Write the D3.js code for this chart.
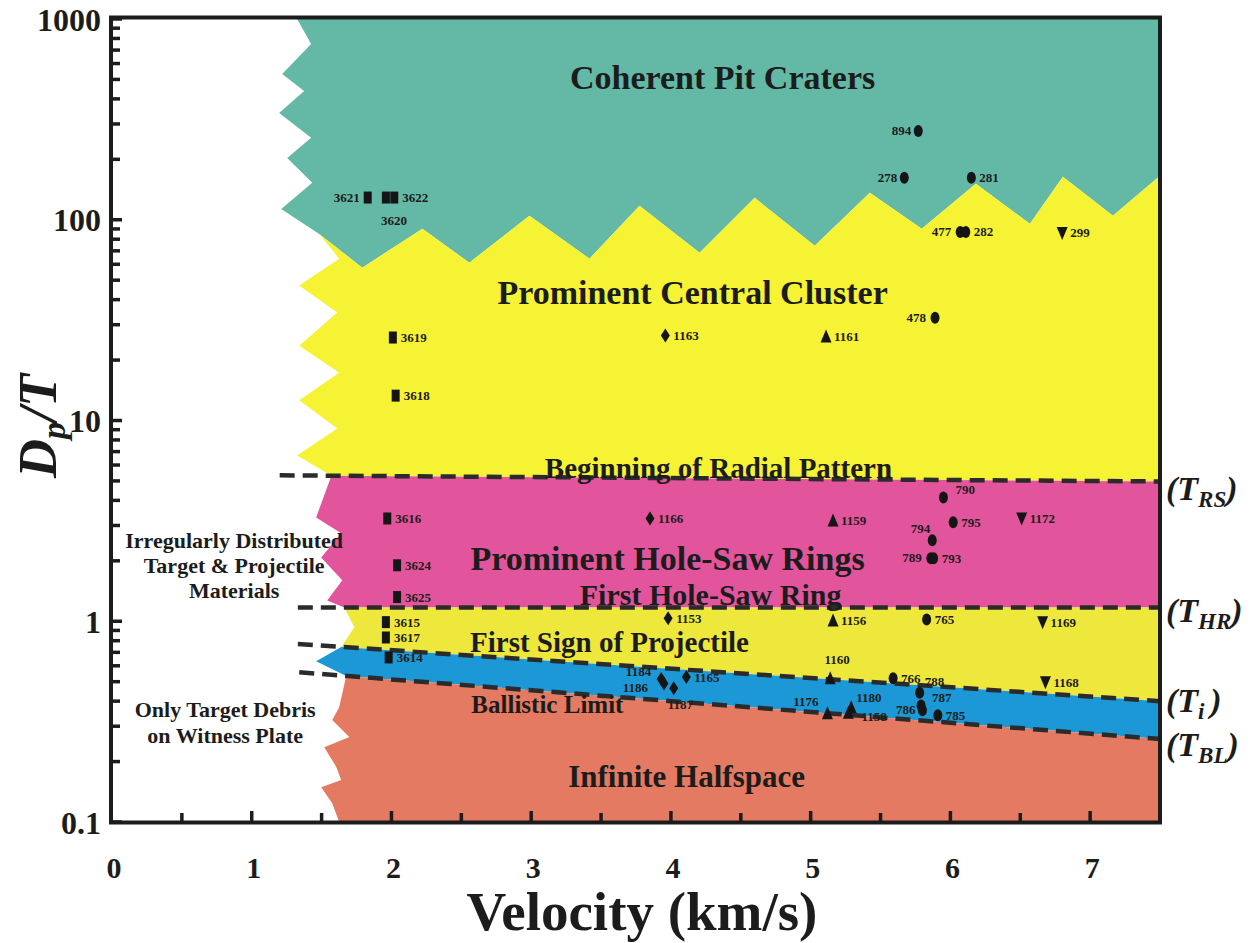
<!DOCTYPE html>
<html>
<head>
<meta charset="utf-8">
<script src="https://cdn.jsdelivr.net/npm/d3@7"></script>
<style>
  body { margin: 0; background: #fff; }
  svg { display: block; }
  text { font-family: "Liberation Serif", "Times New Roman", serif; font-weight: bold; fill: #1c1c1c; }
</style>
</head>
<body>
<script>
// ---------- axis ticks ----------
const xTickValues = [0, 1, 2, 3, 4, 5, 6, 7];
const yTickValues = [0.1, 1, 10, 100, 1000];
const yTickLabels = ["0.1", "1", "10", "100", "1000"];

// ---------- threshold lines (velocity km/s, Dp/T) ----------
const rsLine = [[1.20, 5.33], [7.5, 4.97]];   // T_RS
const hrLine = [[1.33, 1.17], [7.5, 1.17]];   // T_HR
const tiLine = [[1.33, 0.77], [7.5, 0.40]];   // T_i
const blLine = [[1.34, 0.557], [7.5, 0.259]]; // T_BL

// ---------- ragged region borders (velocity, Dp/T) ----------
const tealEdge = [[1.325, 1000], [1.425, 751], [1.218, 532], [1.375, 438], [1.196, 340],
                  [1.425, 256], [1.254, 203], [1.433, 153], [1.211, 113]];
const craterLine = [[1.483, 85], [1.791, 57.7], [2.221, 90.2], [2.557, 61.1], [2.987, 104.7],
                    [3.417, 64.0], [3.775, 117.4], [4.205, 68.5], [4.599, 128.6], [5.029, 74.3],
                    [5.423, 136.3], [5.795, 90.2], [6.182, 151], [6.569, 95.5], [6.805, 163.7],
                    [7.163, 104.7], [7.5, 165.6]];
const yellowEdge = [[1.626, 64], [1.340, 47], [1.612, 34.5], [1.340, 23.6], [1.626, 17.3],
                    [1.340, 12.6], [1.612, 9.12], [1.325, 6.70]];
const pinkEdge = [[1.461, 3.29], [1.640, 2.74], [1.497, 2.08], [1.648, 1.60], [1.540, 1.27]];
const lowYellowEdge = [[1.734, 0.933]];
const blueEdge = [[1.461, 0.632]];
const salmonEdge = [[1.626, 0.373], [1.576, 0.322], [1.698, 0.265], [1.519, 0.236],
                    [1.605, 0.188], [1.640, 0.162], [1.497, 0.149], [1.576, 0.124]];
const joinV = { rs: 1.57, hr: 1.662, ti: 1.640, bl: 1.676, base: 1.626 };

// ---------- test shots: [shot number, velocity, Dp/T] ----------
const squarePts = [["3621", 1.83, 129], ["3620", 1.96, 129], ["3622", 2.02, 129],
                   ["3619", 2.01, 25.9], ["3618", 2.03, 13.3], ["3616", 1.97, 3.25],
                   ["3624", 2.04, 1.90], ["3625", 2.04, 1.32], ["3615", 1.96, 0.99],
                   ["3617", 1.96, 0.83], ["3614", 1.98, 0.66]];
const circlePts = [["894", 5.77, 277], ["278", 5.67, 162], ["281", 6.15, 162], ["477", 6.07, 87],
                   ["282", 6.11, 87], ["478", 5.89, 32.5], ["790", 5.95, 4.14], ["795", 6.02, 3.11],
                   ["794", 5.87, 2.53], ["789", 5.86, 2.06], ["793", 5.88, 2.06], ["765", 5.83, 1.02],
                   ["766", 5.59, 0.52], ["788", 5.78, 0.44], ["787", 5.79, 0.38], ["786", 5.80, 0.36],
                   ["785", 5.91, 0.34]];
const diamondPts = [["1163", 3.96, 26.5], ["1166", 3.85, 3.25], ["1153", 3.98, 1.035],
                    ["1184", 3.93, 0.515], ["1186", 3.95, 0.49], ["1187", 4.02, 0.464],
                    ["1165", 4.11, 0.527]];
const triUpPts = [["1161", 5.11, 26.2], ["1159", 5.16, 3.18], ["1156", 5.16, 1.01],
                  ["1160", 5.14, 0.52], ["1176", 5.12, 0.348], ["1180", 5.29, 0.373],
                  ["1158", 5.27, 0.35]];
const triDownPts = [["299", 6.80, 86], ["1172", 6.51, 3.25], ["1169", 6.66, 0.99],
                    ["1168", 6.68, 0.497]];

// ---------- region names: [text, velocity, Dp/T, font size] ----------
const regionNames = [
  ["Coherent Pit Craters", 4.37, 449, 34],
  ["Prominent Central Cluster", 4.155, 38.2, 34],
  ["Beginning of Radial Pattern", 4.34, 5.2, 29],
  ["Prominent Hole-Saw Rings", 3.976, 1.79, 34],
  ["First Hole-Saw Ring", 4.284, 1.20, 30],
  ["First Sign of Projectile", 3.56, 0.701, 29],
  ["Ballistic Limit", 3.116, 0.348, 25],
  ["Infinite Halfspace", 4.112, 0.149, 31],
  ["Irregularly Distributed", 0.874, 2.31, 22],
  ["Target & Projectile", 0.874, 1.73, 22],
  ["Materials", 0.874, 1.30, 22],
  ["Only Target Debris", 0.81, 0.333, 22],
  ["on Witness Plate", 0.81, 0.247, 22]
];

// ---------- layout ----------
const W = 1256, H = 943;
const svg = d3.select("body").append("svg").attr("width", W).attr("height", H);
svg.append("rect").attr("width", W).attr("height", H).attr("fill", "#fff");

const x = d3.scaleLinear().domain([0, 7.5]).range([112, 1160]);
const y = d3.scaleLog().domain([0.1, 1000]).range([822, 19]);

function lineAt(ln, v) {
  const t = (v - ln[0][0]) / (ln[1][0] - ln[0][0]);
  const a = Math.log10(ln[0][1]), b = Math.log10(ln[1][1]);
  return Math.pow(10, a + t * (b - a));
}
const P = (ln, v) => [v, lineAt(ln, v)];
const xEnd = x.domain()[1], yTop = y.domain()[1], yBot = y.domain()[0];

const regions = [
  { fill: "#64b8a6", pts: [...tealEdge, ...craterLine, [xEnd, yTop]] },
  { fill: "#f6f234", pts: [...craterLine, P(rsLine, xEnd), P(rsLine, joinV.rs), ...yellowEdge.slice().reverse()] },
  { fill: "#e2559c", pts: [P(rsLine, joinV.rs), P(rsLine, xEnd), P(hrLine, xEnd), P(hrLine, joinV.hr), ...pinkEdge.slice().reverse()] },
  { fill: "#eee83c", pts: [P(hrLine, joinV.hr), P(hrLine, xEnd), P(tiLine, xEnd), P(tiLine, joinV.ti), ...lowYellowEdge] },
  { fill: "#1b98d5", pts: [P(tiLine, joinV.ti), P(tiLine, xEnd), P(blLine, xEnd), P(blLine, joinV.bl), ...blueEdge] },
  { fill: "#e37a61", pts: [P(blLine, joinV.bl), P(blLine, xEnd), [xEnd, yBot], [joinV.base, yBot], ...salmonEdge.slice().reverse()] }
];

const poly = d3.line().x(d => x(d[0])).y(d => y(d[1]));
svg.append("g").selectAll("path").data(regions).join("path")
  .attr("d", d => poly(d.pts) + "Z")
  .attr("fill", d => d.fill);

// dashed threshold lines
svg.append("g").selectAll("path").data([rsLine, hrLine, tiLine, blLine]).join("path")
  .attr("d", d => poly(d))
  .attr("fill", "none").attr("stroke", "#2b2b2b")
  .attr("stroke-width", 4.5).attr("stroke-dasharray", "15 8");

// region names
svg.append("g").selectAll("text").data(regionNames).join("text")
  .attr("x", d => x(d[1])).attr("y", d => y(d[2]))
  .attr("text-anchor", "middle").attr("font-size", d => d[3])
  .text(d => d[0]);

// ---------- markers ----------
const shapes = {
  square: "M-4,-6H4V6H-4Z",
  diamond: "M0,-7L4.5,0L0,7L-4.5,0Z",
  triUp: "M0,-7L5.5,6H-5.5Z",
  triDown: "M0,7L5.5,-6H-5.5Z"
};
const markerSets = [
  { pts: squarePts, shape: "square" },
  { pts: circlePts, shape: "circle" },
  { pts: diamondPts, shape: "diamond" },
  { pts: triUpPts, shape: "triUp" },
  { pts: triDownPts, shape: "triDown" }
];
// label offset from its marker: [dx, dy, anchor]
const labelPlace = {
  "3621": [-8, 4, "end"], "3620": [8, 27, "middle"],
  "894": [-7, 4, "end"], "278": [-7, 4, "end"], "477": [-9, 4, "end"], "478": [-9, 4, "end"],
  "789": [-9, 4, "end"], "794": [-2, -7, "end"], "786": [-7, 4, "end"],
  "1184": [-10, -3, "end"], "1186": [-16, 9, "end"], "1187": [-6, 21, "start"],
  "1176": [-9, -7, "end"], "1180": [5, -5, "start"], "1158": [13, 8, "start"],
  "1160": [7, -14, "middle"], "788": [5, -7, "start"], "787": [11, -4, "start"],
  "790": [12, -3, "start"]
};

const mg = svg.append("g");
markerSets.forEach(set => {
  set.pts.forEach(p => {
    const cx = x(p[1]), cy = y(p[2]);
    if (set.shape === "circle") {
      mg.append("ellipse").attr("cx", cx).attr("cy", cy).attr("rx", 4.5).attr("ry", 6).attr("fill", "#151515");
    } else {
      mg.append("path").attr("d", shapes[set.shape]).attr("transform", `translate(${cx},${cy})`).attr("fill", "#151515");
    }
    const pl = labelPlace[p[0]] || [8, 4.5, "start"];
    mg.append("text").attr("x", cx + pl[0]).attr("y", cy + pl[1])
      .attr("text-anchor", pl[2]).attr("font-size", 13).text(p[0]);
  });
});

// ---------- threshold names at right ----------
const thresholdNames = [
  { sub: "RS", ln: rsLine, dy: 19 },
  { sub: "HR", ln: hrLine, dy: 14 },
  { sub: "i ", ln: tiLine, dy: 11 },
  { sub: "BL", ln: blLine, dy: 17 }
];
thresholdNames.forEach(t => {
  const tx = svg.append("text").attr("x", 1166).attr("y", y(lineAt(t.ln, xEnd)) + t.dy)
    .attr("font-size", 34).attr("font-style", "italic").attr("font-weight", "normal");
  tx.append("tspan").text("(T");
  tx.append("tspan").attr("font-size", 23).attr("font-weight", "bold").attr("dy", 7).text(t.sub);
  tx.append("tspan").attr("dy", -7).text(")");
});

// ---------- axes ----------
const ax = svg.append("g").attr("stroke", "#1c1c1c").attr("fill", "none");
ax.append("rect").attr("x", x(0) - 1).attr("y", y(1000) - 1.5)
  .attr("width", x(7.5) - x(0) + 1).attr("height", y(0.1) - y(1000) + 2)
  .attr("stroke-width", 4);

// y ticks: decades long, 2..9 short
ax.selectAll("line.yt").data(y.ticks()).join("line")
  .attr("x1", x(0)).attr("x2", d => x(0) + (yTickValues.includes(d) ? 10 : 8))
  .attr("y1", d => y(d)).attr("y2", d => y(d)).attr("stroke-width", 3.5);

// x ticks every half km/s, pointing up
ax.selectAll("line.xt").data(d3.range(0.5, 7.01, 0.5)).join("line")
  .attr("x1", d => x(d)).attr("x2", d => x(d))
  .attr("y1", y(0.1)).attr("y2", d => y(0.1) - (Number.isInteger(d) ? 11 : 9)).attr("stroke-width", 3.5);

svg.append("g").selectAll("text").data(yTickValues).join("text")
  .attr("x", 101).attr("y", d => y(d)).attr("dy", "0.36em")
  .attr("text-anchor", "end").attr("font-size", 32)
  .text((d, i) => yTickLabels[i]);

svg.append("g").selectAll("text").data(xTickValues).join("text")
  .attr("x", d => x(d) + 2).attr("y", 878)
  .attr("text-anchor", "middle").attr("font-size", 30)
  .text(d => d);

// axis titles
svg.append("text").attr("x", 642).attr("y", 930).attr("text-anchor", "middle")
  .attr("font-size", 55).text("Velocity (km/s)");

const yt = svg.append("text").attr("transform", "translate(56,426) rotate(-90)")
  .attr("text-anchor", "middle").attr("font-size", 54).attr("font-style", "italic");
yt.append("tspan").text("D");
yt.append("tspan").attr("font-size", 34).attr("dy", 9).text("p");
yt.append("tspan").attr("dy", -9).text("/T");
</script>
</body>
</html>
